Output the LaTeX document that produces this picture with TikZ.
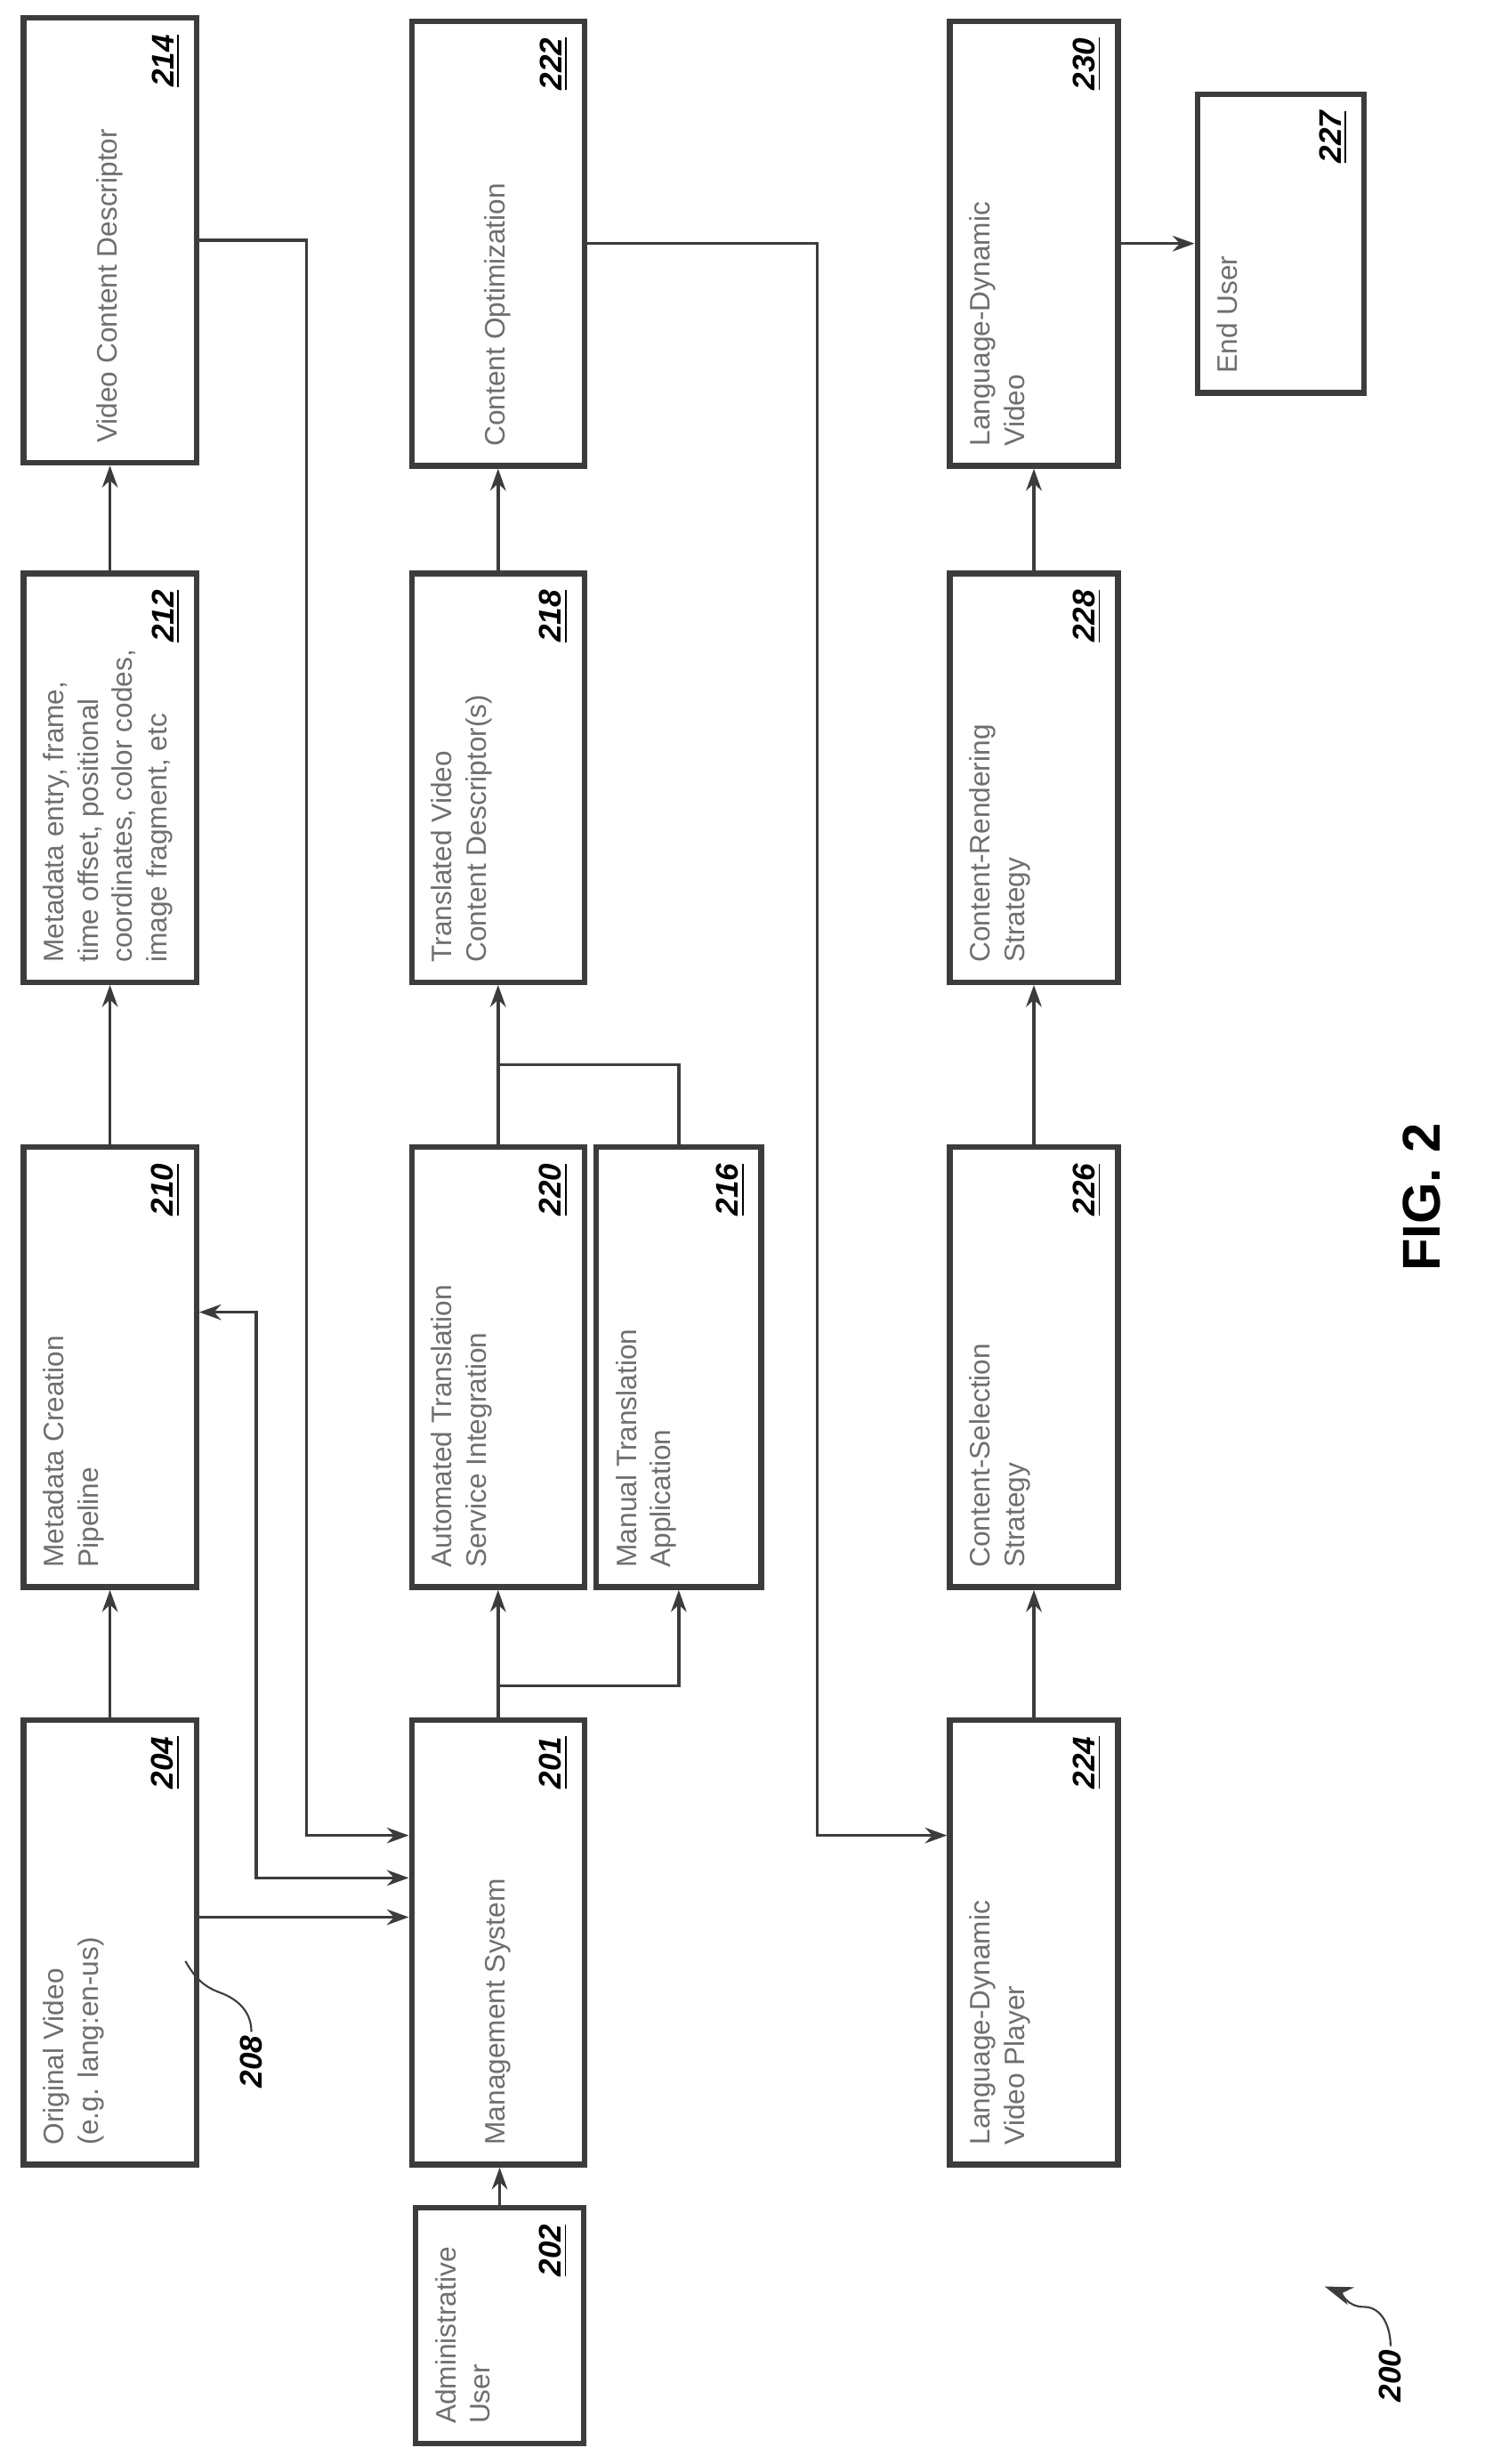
\documentclass[tikz,border=0pt]{standalone}
\usepackage{fontspec}
\setmainfont{Liberation Sans}
\usetikzlibrary{calc,arrows.meta}
\definecolor{boxgray}{RGB}{60,60,60}
\definecolor{txtgray}{RGB}{110,110,110}
\tikzset{
  block/.style={draw=boxgray, line width=1.8pt, rotate=90, inner sep=0pt},
  blocktext/.style={rotate=90, align=left, text=txtgray, font=\fontsize{9}{11}\selectfont, inner sep=7pt},
  blocknum/.style={rotate=90, font=\bfseries\itshape\fontsize{10}{12}\selectfont, inner sep=6pt},
  link/.style={line width=1pt, draw=boxgray},
  arr/.style={link, -{Stealth[length=7pt,width=5pt]}}
}
% box: name, x, y, long side, short side, anchor of text, text, number
\newcommand{\blk}[8]{%
  \node[block, minimum width={#4*0.01766cm}, minimum height={#5*0.01766cm}] (#1) at (#2,#3) {};
  \node[blocktext, anchor=#6] at (#1.#6) {#7};
  \node[blocknum, anchor=south east] at (#1.south east) {\underline{#8}};
}
\begin{document}
\begin{tikzpicture}[x=0.01766cm, y=-0.01766cm]
  \path[use as bounding box] (0,0) rectangle (945,1568);

  % first row (top to bottom on the page)
  \blk{b214}{70}{153}{283}{110}{west}{Video Content Descriptor}{214}
  \blk{b212}{70}{495}{260}{110}{north west}{Metadata entry, frame,\\time offset, positional\\coordinates, color codes,\\image fragment, etc}{212}
  \blk{b210}{70}{870}{280}{110}{north west}{Metadata Creation\\Pipeline}{210}
  \blk{b204}{70}{1236}{283}{110}{north west}{Original Video\\(e.g. lang:en-us)}{204}

  % second row
  \blk{b222}{317}{155}{283}{110}{west}{Content Optimization}{222}
  \blk{b218}{317}{495}{260}{110}{north west}{Translated Video\\Content Descriptor(s)}{218}
  \blk{b220}{317}{870}{280}{110}{north west}{Automated Translation\\Service Integration}{220}
  \blk{b216}{432}{870}{280}{105}{north west}{Manual Translation\\Application}{216}
  \blk{b201}{317}{1236}{283}{110}{west}{Management System}{201}
  \blk{b202}{318}{1480}{150}{107}{north west}{Administrative\\User}{202}

  % third row
  \blk{b230}{658}{155}{283}{107}{north west}{Language-Dynamic\\Video}{230}
  \blk{b228}{658}{495}{260}{107}{north west}{Content-Rendering\\Strategy}{228}
  \blk{b226}{658}{870}{280}{107}{north west}{Content-Selection\\Strategy}{226}
  \blk{b224}{658}{1236}{283}{107}{north west}{Language-Dynamic\\Video Player}{224}
  \blk{b227}{815}{155}{190}{106}{north west}{End User}{227}

  % straight links
  \draw[arr] (b202.east) -- (b202.east |- b201.west);
  \draw[arr] (b204.east) -- (b210.west);
  \draw[arr] (b210.east) -- (b212.west);
  \draw[arr] (b212.east) -- (b214.west);
  \draw[arr] (b201.east) -- (b220.west);
  \draw[arr] (b218.east) -- (b222.west);
  \draw[arr] (b224.east) -- (b226.west);
  \draw[arr] (b226.east) -- (b228.west);
  \draw[arr] (b228.east) -- (b230.west);
  \draw[arr] (b230.south) -- (b227.north |- b230.south);

  % translation branches
  \draw[arr] ($(b201.east)+(0,-20)$) -| (b216.west);
  \draw[arr] (b220.east) -- (b218.west);
  \draw[link] (b216.east) |- ($(b220.east)!0.5!(b218.west)$);

  % links back into the management system
  \draw[arr] (b214.south) -- (195,153) |- (b201.north |- 0,1168);
  \draw[arr, {Stealth[length=7pt,width=5pt]}-{Stealth[length=7pt,width=5pt]}] (b210.south |- 0,835) -- (163,835) |- (b201.north |- 0,1195);
  \draw[arr] (b204.south |- 0,1220) -- (b201.north |- 0,1220);
  \draw[arr] (b222.south) -- (520,155) |- (b224.north |- 0,1168);

  % reference numerals
  \node[blocknum, inner sep=1pt] (l208) at (160,1312) {208};
  \draw[link, line width=0.6pt] (l208.east) to[out=90,in=-20] (140,1268) to[out=160,in=-60] (118,1248);
  \node[blocknum, inner sep=1pt] (l200) at (885,1512) {200};
  \draw[link, line width=0.6pt, -{Stealth[length=9pt,width=6pt]}] (l200.east) to[out=90,in=0] (868,1468) to[out=180,in=-20] (843,1455);
  \node[rotate=90, font=\bfseries\fontsize{17}{20}\selectfont] (fig) at (905,762) {FIG. 2};
\end{tikzpicture}
\end{document}
